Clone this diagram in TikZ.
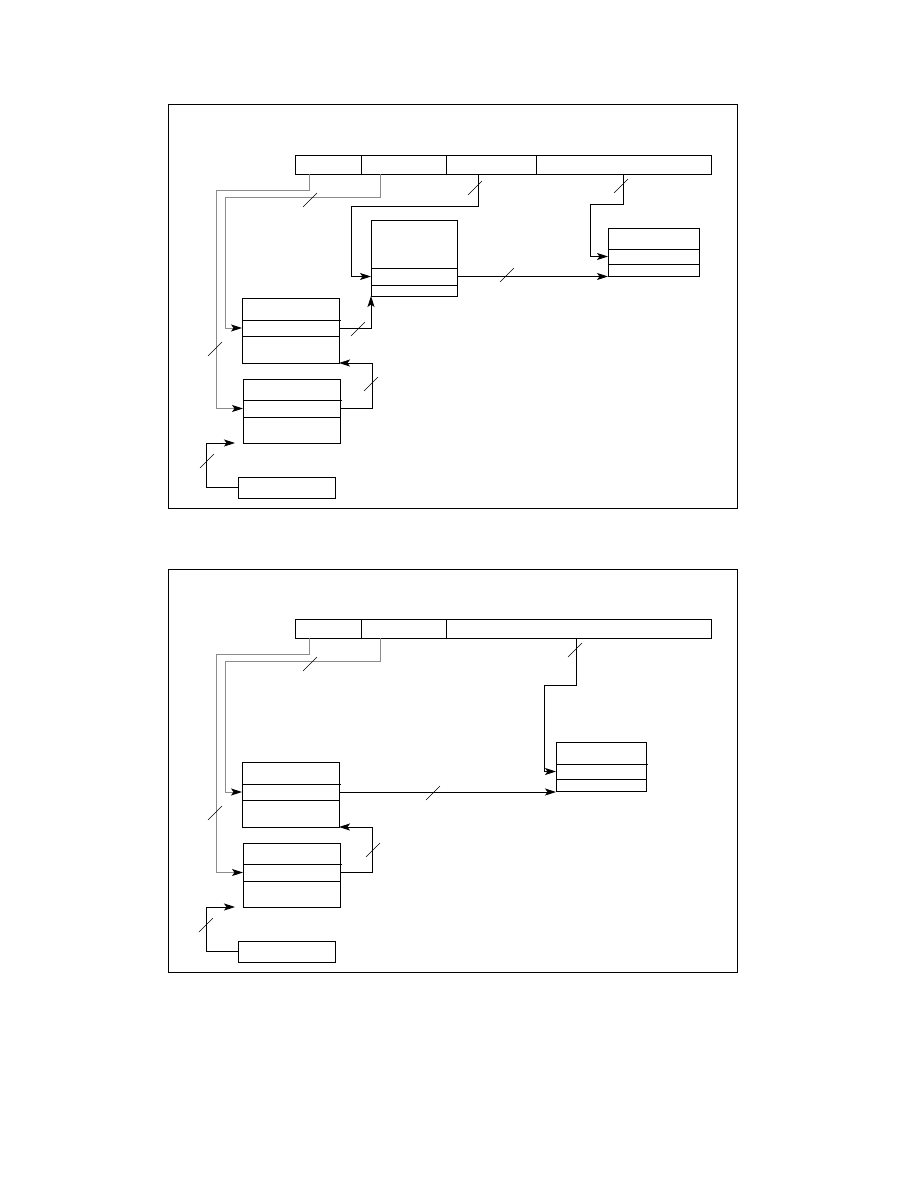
\documentclass[tikz,border=0pt]{standalone}
\usetikzlibrary{arrows.meta}
\definecolor{wire}{gray}{0.55}
\tikzset{
  slot/.style 2 args={draw, inner sep=0pt, outer sep=0pt, anchor=north west,
    minimum width=#1pt, minimum height=#2pt},
  arr/.style={-{Stealth[length=11pt,width=7pt,inset=2.5pt,color=black]}},
  bus/.style={draw=wire},
  cut/.pic={\draw[line width=0.6pt] (-7,7) -- (7,-7);}
}
\begin{document}
\begin{tikzpicture}[x=1pt,y=-1pt,line width=0.9pt]
  \useasboundingbox (0,0) rectangle (918,1188);
  % upper panel
  \draw[line width=1pt] (168,105) rectangle (737,508);
  \node[slot={66}{19}] (f1) at (295,155) {};
  \node[slot={85}{19}] (f2) at (f1.north east) {};
  \node[slot={90}{19}] (f3) at (f2.north east) {};
  \node[slot={175}{19}] (f4) at (f3.north east) {};
  \node[slot={86}{48}] (a1) at (371,220) {};
  \node[slot={86}{17}] (a2) at (a1.south west) {};
  \node[slot={86}{11}] (a3) at (a2.south west) {};
  \node[slot={91}{21}] (c1) at (608,228) {};
  \node[slot={91}{15}] (c2) at (c1.south west) {};
  \node[slot={91}{12}] (c3) at (c2.south west) {};
  \node[slot={97}{22}] (b1) at (242,298) {};
  \node[slot={97}{16}] (b2) at (b1.south west) {};
  \node[slot={97}{27}] (b3) at (b2.south west) {};
  \node[slot={97}{21}] (d1) at (243,379) {};
  \node[slot={97}{17}] (d2) at (d1.south west) {};
  \node[slot={97}{26}] (d3) at (d2.south west) {};
  \node[slot={97}{21}] (e) at (238,477) {};
  \draw (b1.south east) -- ++(2,0);
  \draw (d1.south east) -- ++(2,0);
  \draw[bus,arr] ([xshift=14pt]f1.south west) |- (216,190) |- (d2.west);
  \draw[bus,arr] ([xshift=19pt]f2.south west) |- (225,197) |- (b2.west);
  \draw[arr] ([xshift=32pt]f3.south west) |- (351,206) |- (a2.west);
  \draw[arr] (f4.south) |- (590,204) |- (c2.west);
  \draw[arr] (a2.east) -- (a2.east -| c3.west);
  \draw[arr] (b2.east) -| (a3.south west);
  \draw[arr] (d2.east) -| ([xshift=33pt]b3.south east) -- (b3.south east);
  \draw[arr] (e.west) -| ([xshift=-37pt]d3.south west) -- ([xshift=-8pt]d3.south west);
  \pic at (310,200) {cut};
  \pic at (475,188) {cut};
  \pic at (621,186) {cut};
  \pic at (507,275) {cut};
  \pic at (358,329) {cut};
  \pic at (371,384) {cut};
  \pic at (215,349) {cut};
  \pic at (207,461) {cut};
  % lower panel
  \begin{scope}[shift={(0,464)}]
    \draw[line width=1pt] (168,105) rectangle (737,508);
    \node[slot={66}{19}] (g1) at (295,155) {};
    \node[slot={85}{19}] (g2) at (g1.north east) {};
    \node[slot={265}{19}] (g3) at (g2.north east) {};
    \node[slot={90}{22}] (h1) at (556,278) {};
    \node[slot={90}{15}] (h2) at (h1.south west) {};
    \node[slot={90}{12}] (h3) at (h2.south west) {};
    \node[slot={97}{22}] (k1) at (242,298) {};
    \node[slot={97}{16}] (k2) at (k1.south west) {};
    \node[slot={97}{27}] (k3) at (k2.south west) {};
    \node[slot={97}{21}] (m1) at (243,379) {};
    \node[slot={97}{17}] (m2) at (m1.south west) {};
    \node[slot={97}{26}] (m3) at (m2.south west) {};
    \node[slot={97}{21}] (n) at (238,477) {};
    \draw (h1.south east) -- ++(2,0);
    \draw (k1.south east) -- ++(2,0);
    \draw (m1.south east) -- ++(2,0);
    \draw[bus,arr] ([xshift=14pt]g1.south west) |- (216,190) |- (m2.west);
    \draw[bus,arr] ([xshift=19pt]g2.south west) |- (225,197) |- (k2.west);
    \draw[arr] ([xshift=130pt]g3.south west) |- (544,221) |- (h2.west);
    \draw[arr] (k2.east) -- (k2.east -| h3.west);
    \draw[arr] (m2.east) -| ([xshift=33pt]k3.south east) -- (k3.south east);
    \draw[arr] (n.west) -| ([xshift=-37pt]m3.south west) -- ([xshift=-8pt]m3.south west);
    \pic at (310,200) {cut};
    \pic at (575,186) {cut};
    \pic at (433,329) {cut};
    \pic at (373,386) {cut};
    \pic at (215,349) {cut};
    \pic at (206,461) {cut};
  \end{scope}
\end{tikzpicture}
\end{document}
